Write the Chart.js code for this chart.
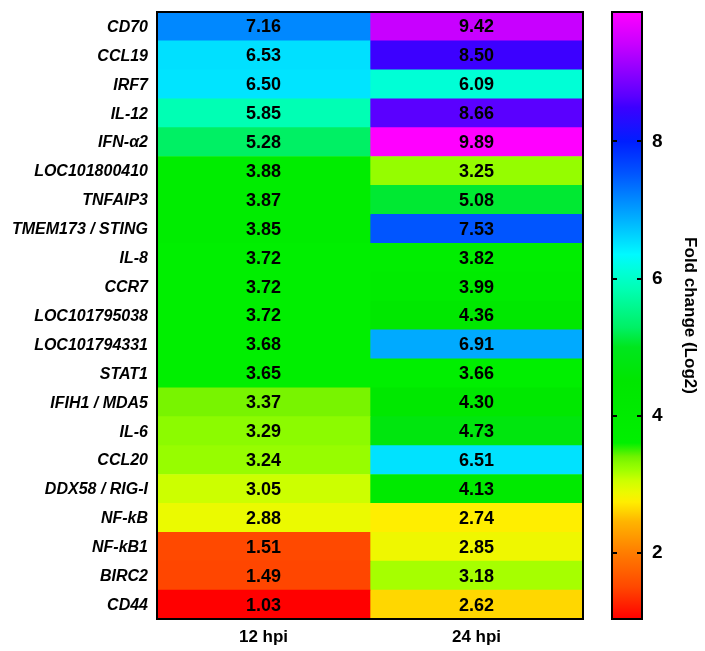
<!DOCTYPE html>
<html>
<head>
<meta charset="utf-8">
<script src="https://cdn.jsdelivr.net/npm/chart.js@4/dist/chart.umd.min.js"></script>
<style>
  body { margin: 0; background: #fff; }
  #wrap { position: relative; width: 705px; height: 651px; }
  #heat { position: absolute; left: 0; top: 0; }
  #bar { position: absolute; left: 600px; top: 0; }
</style>
</head>
<body>
<div id="wrap">
  <canvas id="heat" width="600" height="651"></canvas>
  <canvas id="bar" width="105" height="651"></canvas>
</div>
<script>
// Genes, top to bottom
const genes = [
  'CD70', 'CCL19', 'IRF7', 'IL-12', 'IFN-\u03b12', 'LOC101800410', 'TNFAIP3',
  'TMEM173 / STING', 'IL-8', 'CCR7', 'LOC101795038', 'LOC101794331', 'STAT1',
  'IFIH1 / MDA5', 'IL-6', 'CCL20', 'DDX58 / RIG-I', 'NF-kB', 'NF-kB1', 'BIRC2', 'CD44'
];
const timepoints = ['12 hpi', '24 hpi'];

// Fold change (Log2)
const fc12 = [7.16, 6.53, 6.50, 5.85, 5.28, 3.88, 3.87, 3.85, 3.72, 3.72, 3.72,
  3.68, 3.65, 3.37, 3.29, 3.24, 3.05, 2.88, 1.51, 1.49, 1.03];
const fc24 = [9.42, 8.50, 6.09, 8.66, 9.89, 3.25, 5.08, 7.53, 3.82, 3.99, 4.36,
  6.91, 3.66, 4.30, 4.73, 6.51, 4.13, 2.74, 2.85, 3.18, 2.62];

const colorTicks = [2, 4, 6, 8];

// rainbow ladder (value -> rgb)
const colorStops = [
  [1.03, [255, 0, 0]], [1.5, [255, 72, 0]], [2.0, [255, 125, 0]], [2.45, [255, 180, 0]],
  [2.62, [255, 215, 0]], [2.74, [255, 238, 0]], [2.88, [235, 250, 0]], [3.05, [204, 255, 0]],
  [3.2, [160, 255, 0]], [3.3, [138, 250, 0]], [3.4, [112, 242, 0]], [3.6, [0, 240, 0]],
  [4.5, [0, 230, 0]], [5.0, [0, 230, 30]], [5.28, [0, 240, 100]], [5.85, [0, 255, 180]],
  [6.1, [0, 255, 215]], [6.35, [0, 250, 255]], [6.52, [0, 225, 255]], [6.91, [0, 170, 255]],
  [7.16, [0, 136, 255]], [7.53, [0, 85, 255]], [8.0, [0, 30, 255]], [8.5, [60, 0, 255]],
  [8.66, [90, 0, 255]], [9.42, [200, 0, 255]], [9.89, [255, 0, 255]]
];

const FONT = "'Liberation Sans', Arial, sans-serif";
const allVals = fc12.concat(fc24);
const vMin = Math.min(...allVals);
const vMax = Math.max(...allVals);

function colorFor(v) {
  if (v <= colorStops[0][0]) return 'rgb(' + colorStops[0][1].join(',') + ')';
  for (let i = 1; i < colorStops.length; i++) {
    const [v1, c1] = colorStops[i];
    const [v0, c0] = colorStops[i - 1];
    if (v <= v1) {
      const t = (v - v0) / (v1 - v0);
      const c = c0.map((x, k) => Math.round(x + (c1[k] - x) * t));
      return 'rgb(' + c.join(',') + ')';
    }
  }
  return 'rgb(' + colorStops[colorStops.length - 1][1].join(',') + ')';
}

// stop axes from pushing the plot area in for label overhang
function noOverhang(s) {
  s.paddingTop = 0; s.paddingBottom = 0; s.paddingLeft = 0; s.paddingRight = 0;
}

// frame + cell values
const heatPlugin = {
  id: 'heatText',
  afterDatasetsDraw(chart) {
    const ctx = chart.ctx;
    const series = [fc12, fc24];
    ctx.save();
    ctx.fillStyle = '#000';
    ctx.font = 'bold 18px ' + FONT;
    ctx.textAlign = 'center';
    ctx.textBaseline = 'middle';
    series.forEach((vals, di) => {
      chart.getDatasetMeta(di).data.forEach((el, i) => {
        ctx.fillText(vals[i].toFixed(2), (el.x + el.base) / 2, el.y + 1);
      });
    });
    const a = chart.chartArea;
    ctx.strokeStyle = '#000';
    ctx.lineWidth = 2;
    ctx.strokeRect(a.left, a.top, a.right - a.left, a.bottom - a.top);
    ctx.restore();
  }
};

new Chart(document.getElementById('heat'), {
  type: 'bar',
  data: {
    labels: genes,
    datasets: [
      { data: genes.map(() => 1), backgroundColor: fc12.map(colorFor), borderWidth: 0 },
      { data: genes.map(() => 1), backgroundColor: fc24.map(colorFor), borderWidth: 0 }
    ]
  },
  options: {
    responsive: false,
    animation: false,
    indexAxis: 'y',
    layout: { padding: { top: 12, right: 17, left: 0, bottom: 0 } },
    datasets: { bar: { categoryPercentage: 1, barPercentage: 1 } },
    plugins: { legend: { display: false }, tooltip: { enabled: false } },
    scales: {
      x: {
        stacked: true, min: 0, max: 2,
        grid: { display: false, drawTicks: false },
        border: { display: false },
        afterBuildTicks: s => { s.ticks = timepoints.map((t, i) => ({ value: i + 0.5 })); },
        afterFit: s => { s.height = 32; noOverhang(s); },
        ticks: {
          padding: 8, color: '#000',
          font: { family: FONT, size: 17, weight: 'bold' },
          callback: (v, i) => timepoints[i]
        }
      },
      y: {
        stacked: true,
        grid: { display: false, drawTicks: false },
        border: { display: false },
        afterFit: s => { s.width = 157; noOverhang(s); },
        ticks: {
          padding: 9, color: '#000', autoSkip: false, labelOffset: 1,
          font: { family: FONT, size: 16, weight: 'bold', style: 'italic' }
        }
      }
    }
  },
  plugins: [heatPlugin]
});

// colour bar
const barPlugin = {
  id: 'barFrame',
  afterDatasetsDraw(chart) {
    const ctx = chart.ctx;
    const a = chart.chartArea;
    const y = chart.scales.y;
    ctx.save();
    ctx.strokeStyle = '#000';
    ctx.lineWidth = 2;
    colorTicks.forEach(t => {
      const py = Math.round(y.getPixelForValue(t));
      ctx.beginPath();
      ctx.moveTo(a.left, py); ctx.lineTo(a.left + 5, py);
      ctx.moveTo(a.right - 5, py); ctx.lineTo(a.right, py);
      ctx.stroke();
    });
    ctx.strokeRect(a.left, a.top, a.right - a.left, a.bottom - a.top);
    ctx.restore();
  }
};

new Chart(document.getElementById('bar'), {
  type: 'bar',
  data: {
    labels: [''],
    datasets: [{
      data: [[vMin, vMax]],
      borderWidth: 0,
      backgroundColor: (c) => {
        const { chartArea, scales } = c.chart;
        if (!chartArea) return '#fff';
        const y0 = scales.y.getPixelForValue(vMin);
        const y1 = scales.y.getPixelForValue(vMax);
        const g = c.chart.ctx.createLinearGradient(0, y0, 0, y1);
        colorStops.forEach(([v]) => {
          g.addColorStop(Math.min(1, Math.max(0, (v - vMin) / (vMax - vMin))), colorFor(v));
        });
        return g;
      }
    }]
  },
  options: {
    responsive: false,
    animation: false,
    layout: { padding: { top: 12, left: 12, right: 0, bottom: 32 } },
    datasets: { bar: { categoryPercentage: 1, barPercentage: 1 } },
    plugins: { legend: { display: false }, tooltip: { enabled: false } },
    scales: {
      x: { display: false },
      y: {
        position: 'right',
        min: vMin, max: vMax,
        grid: { display: false, drawTicks: false },
        border: { display: false },
        afterBuildTicks: s => { s.ticks = colorTicks.map(v => ({ value: v })); },
        afterFit: s => { s.width = 63; noOverhang(s); },
        ticks: {
          padding: 10, color: '#000',
          font: { family: FONT, size: 19, weight: 'bold' }
        },
        title: {
          display: true,
          text: 'Fold change (Log2)',
          color: '#000',
          padding: { top: 5, bottom: 0 },
          font: { family: FONT, size: 17, weight: 'bold' }
        }
      }
    }
  },
  plugins: [barPlugin]
});
</script>
</body>
</html>
